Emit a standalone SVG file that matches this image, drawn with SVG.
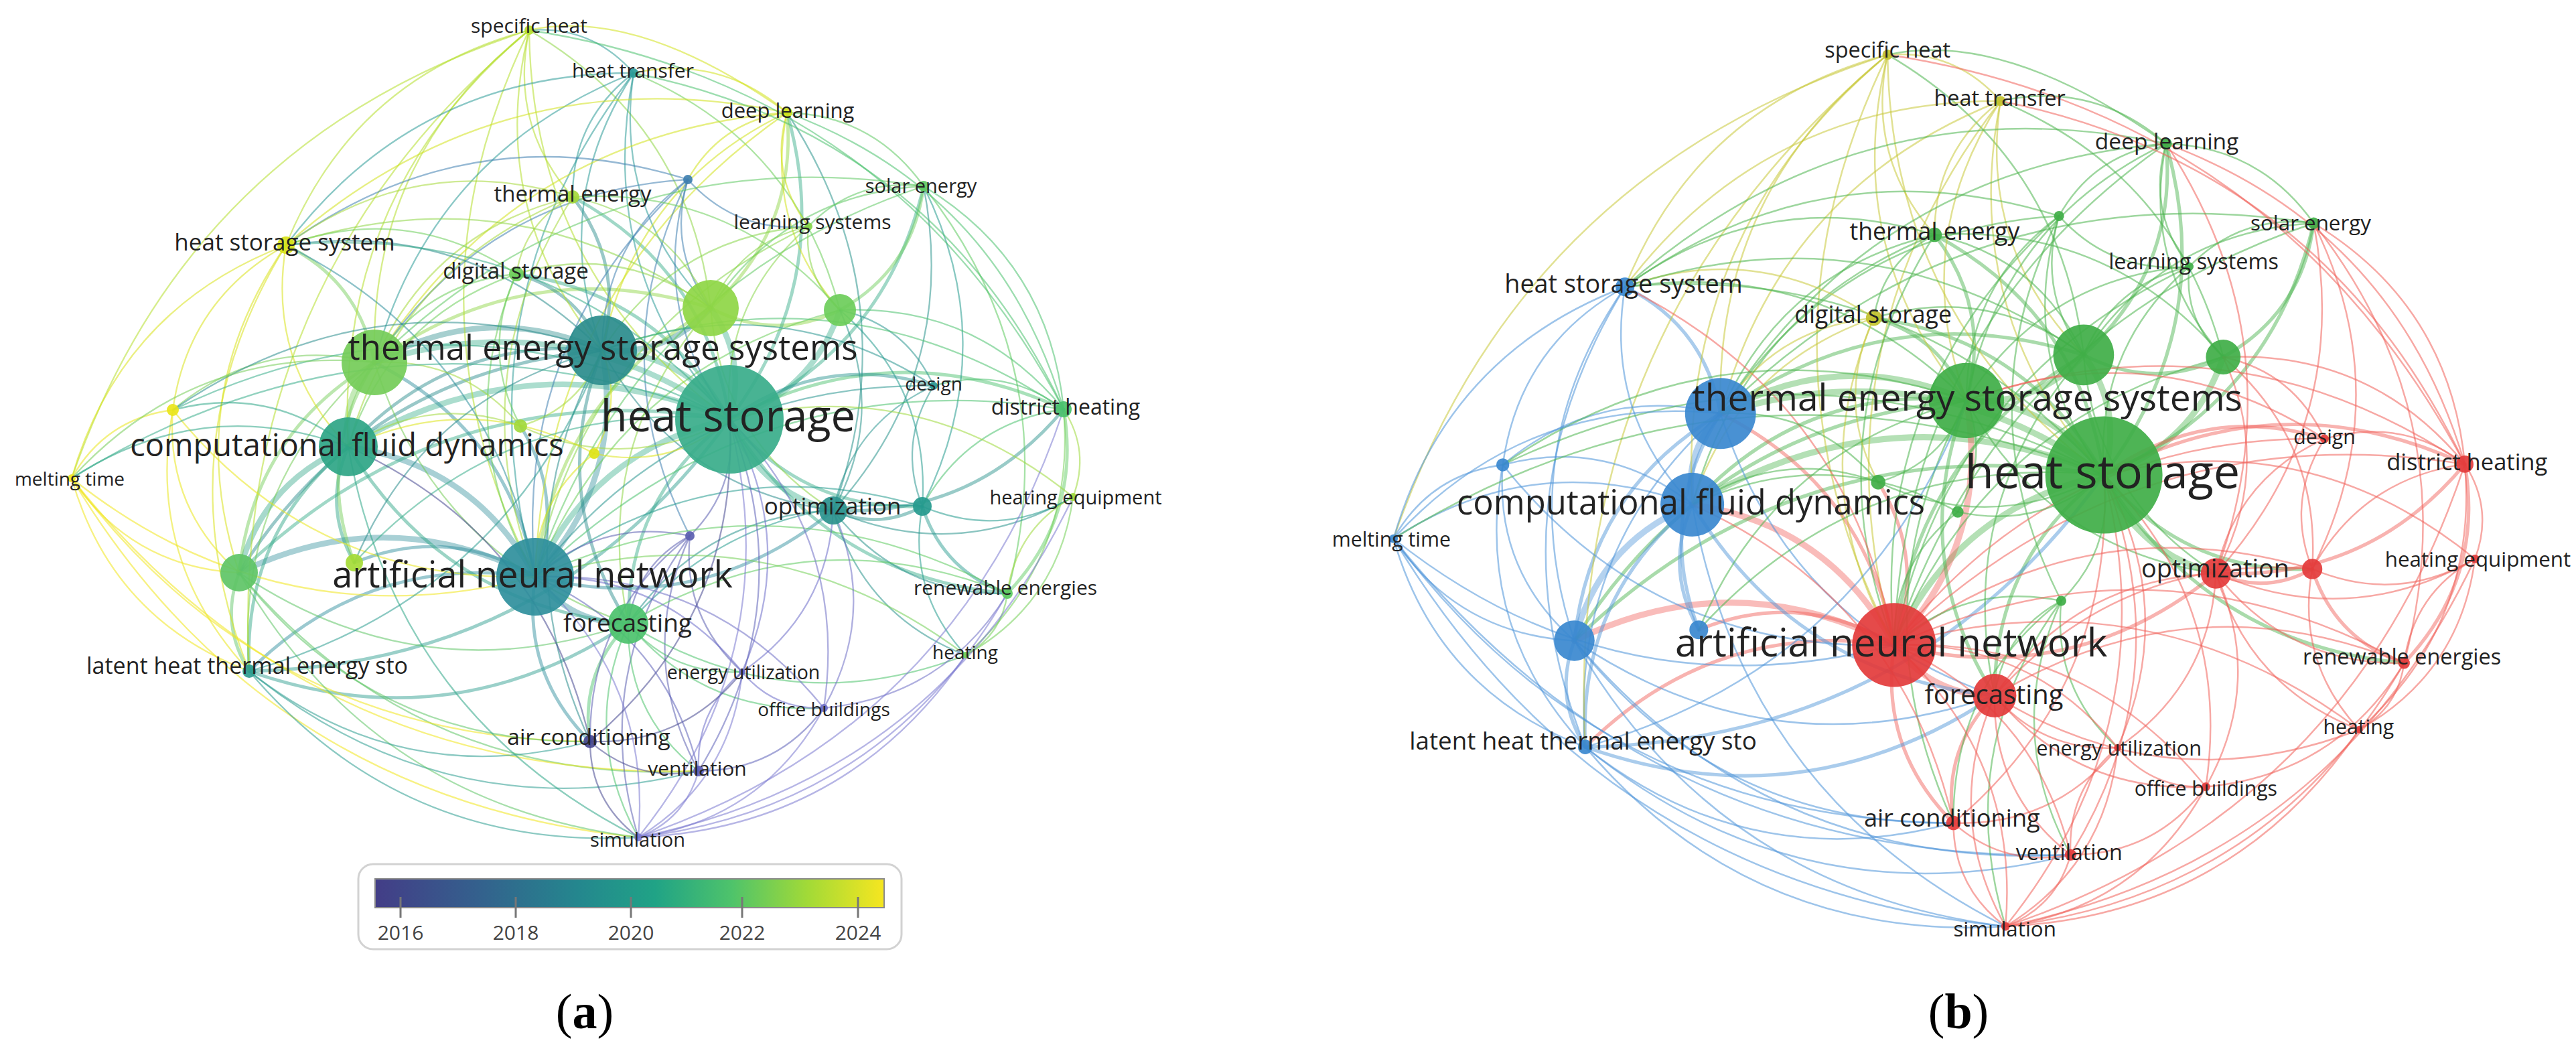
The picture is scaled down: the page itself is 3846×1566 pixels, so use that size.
<svg xmlns="http://www.w3.org/2000/svg" width="3846" height="1566" viewBox="0 0 3846 1566">
<defs>
<linearGradient id="vir" x1="0" x2="1" y1="0" y2="0">
<stop offset="0" stop-color="#433d87"/>
<stop offset=".2" stop-color="#34608d"/>
<stop offset=".4" stop-color="#24878e"/>
<stop offset=".55" stop-color="#20a386"/>
<stop offset=".7" stop-color="#4ec36b"/>
<stop offset=".85" stop-color="#a2da37"/>
<stop offset="1" stop-color="#f6e620"/>
</linearGradient>
</defs>
<style>
.l{font-family:"Open Sans","DejaVu Sans",sans-serif;fill:#222;text-anchor:middle}
#ea path,#eb path{fill:none;stroke-linecap:round}
.w1{stroke-width:2.3;stroke-opacity:.55}
.w2{stroke-width:4.8;stroke-opacity:.48}
.w3{stroke-width:8.5;stroke-opacity:.42}
.node circle{fill-opacity:.92}
#ea .c1{stroke:#b5de2b}#ea .c2{stroke:#2b9b98}#ea .c3{stroke:#d2e21b}#ea .c4{stroke:#3f7fb0}#ea .c5{stroke:#a5d83a}#ea .c6{stroke:#5ec962}#ea .c7{stroke:#86d549}#ea .c8{stroke:#d8e219}#ea .c9{stroke:#6ccd5a}#ea .c10{stroke:#8ed645}#ea .c11{stroke:#6ccd5a}#ea .c12{stroke:#2a8c8c}#ea .c13{stroke:#74cc58}#ea .c14{stroke:#38ad8a}#ea .c15{stroke:#2a9590}#ea .c16{stroke:#4ac16d}#ea .c17{stroke:#eae51a}#ea .c18{stroke:#a2d93c}#ea .c19{stroke:#dde318}#ea .c20{stroke:#2ea586}#ea .c21{stroke:#f0e51c}#ea .c22{stroke:#259a8e}#ea .c23{stroke:#2a938d}#ea .c24{stroke:#9dd93b}#ea .c25{stroke:#5b5fb0}#ea .c26{stroke:#5ec466}#ea .c27{stroke:#a5db36}#ea .c28{stroke:#2f8f9c}#ea .c29{stroke:#5ccb5f}#ea .c30{stroke:#4cc26c}#ea .c31{stroke:#72d056}#ea .c32{stroke:#2c9c8f}#ea .c33{stroke:#6b6bc8}#ea .c34{stroke:#6d6dc4}#ea .c35{stroke:#46478f}#ea .c36{stroke:#5d60b8}#ea .c37{stroke:#7a78cf}
#eb .c1,#eb .c2,#eb .c9{stroke:#c9c93a}
#eb .c3,#eb .c4,#eb .c5,#eb .c6,#eb .c7,#eb .c10,#eb .c11,#eb .c12,#eb .c14,#eb .c18,#eb .c19,#eb .c25{stroke:#4cb44f}
#eb .c8,#eb .c13,#eb .c17,#eb .c20,#eb .c21,#eb .c26,#eb .c27,#eb .c32{stroke:#4d94d8}
#eb .c15,#eb .c16,#eb .c22,#eb .c23,#eb .c24,#eb .c28,#eb .c29,#eb .c30,#eb .c31,#eb .c33,#eb .c34,#eb .c35,#eb .c36,#eb .c37{stroke:#f0605a}
.cap{font-family:"Liberation Serif","Times New Roman",serif;font-size:74px;fill:#000;text-anchor:middle}
.tick{font-family:"Open Sans","DejaVu Sans",sans-serif;font-size:30px;fill:#444;text-anchor:middle}
</style>
<rect width="3846" height="1566" fill="#fff"/>

<g id="panel-a">
<g id="ea">
<path class="w3 c14" d="M1089 626Q1020 527 899 523"/>
<path class="w3 c14" d="M1089 626Q885 671 799 861"/>
<path class="w3 c14" d="M1089 626Q1116 536 1061 460"/>
<path class="w3 c14" d="M1089 626Q845 451 559 541"/>
<path class="w3 c14" d="M1089 626Q794 504 520 667"/>
<path class="w3 c12" d="M899 523Q724 447 559 541"/>
<path class="w3 c28" d="M799 861Q708 694 520 667"/>
<path class="w3 c13" d="M559 541Q508 594 520 667"/>
<path class="w3 c28" d="M799 861Q579 747 357 855"/>
<path class="w3 c20" d="M520 667Q391 720 357 855"/>
<path class="w3 c12" d="M899 523Q996 532 1061 460"/>
<path class="w3 c28" d="M799 861Q933 717 899 523"/>
<path class="w3 c14" d="M1089 626Q1212 586 1254 463"/>
<path class="w3 c14" d="M1089 626Q1132 733 1244 762"/>
<path class="w3 c28" d="M799 861Q851 931 938 931"/>
<path class="w2 c14" d="M1089 626Q937 741 938 931"/>
<path class="w2 c14" d="M1089 626Q666 557 357 855"/>
<path class="w2 c12" d="M899 523Q673 500 520 667"/>
<path class="w2 c28" d="M799 861Q759 641 559 541"/>
<path class="w2 c10" d="M1061 460Q1157 510 1254 463"/>
<path class="w2 c10" d="M1061 460Q790 375 559 541"/>
<path class="w2 c14" d="M1089 626Q1200 763 1377 756"/>
<path class="w2 c23" d="M1244 762Q1312 792 1377 756"/>
<path class="w2 c28" d="M799 861Q1046 923 1244 762"/>
<path class="w2 c12" d="M899 523Q545 553 357 855"/>
<path class="w2 c13" d="M559 541Q379 647 357 855"/>
<path class="w2 c20" d="M520 667Q362 797 372 1002"/>
<path class="w2 c26" d="M357 855Q328 932 372 1002"/>
<path class="w2 c28" d="M799 861Q550 825 372 1002"/>
<path class="w2 c13" d="M559 541Q537 420 427 366"/>
<path class="w2 c16" d="M1588 611Q1335 494 1089 626"/>
<path class="w2 c14" d="M1089 626Q984 438 771 409"/>
<path class="w2 c12" d="M899 523Q863 434 771 409"/>
<path class="w2 c14" d="M1089 626Q1055 401 855 294"/>
<path class="w2 c14" d="M1089 626Q1246 418 1175 168"/>
<path class="w2 c10" d="M1061 460Q1191 342 1175 168"/>
<path class="w2 c14" d="M1089 626Q1321 524 1379 278"/>
<path class="w2 c11" d="M1254 463Q1363 402 1379 278"/>
<path class="w2 c12" d="M899 523Q934 397 855 294"/>
<path class="w2 c28" d="M799 861Q778 1004 881 1107"/>
<path class="w2 c30" d="M938 931Q865 1005 881 1107"/>
<path class="w2 c15" d="M1394 576Q1229 525 1089 626"/>
<path class="w2 c23" d="M1244 762Q1454 772 1588 611"/>
<path class="w2 c29" d="M1504 886Q1615 769 1588 611"/>
<path class="w2 c22" d="M1377 756Q1408 853 1504 886"/>
<path class="w2 c14" d="M1089 626Q1231 860 1504 886"/>
<path class="w2 c28" d="M799 861Q844 743 777 636"/>
<path class="w2 c20" d="M520 667Q481 756 529 840"/>
<path class="w2 c28" d="M799 861Q669 783 529 840"/>
<path class="w2 c13" d="M559 541Q469 683 529 840"/>
<path class="w2 c32" d="M372 1002Q824 993 1089 626"/>
<path class="w2 c32" d="M372 1002Q673 1108 938 931"/>
<path class="w2 c12" d="M899 523Q816 737 938 931"/>
<path class="w2 c20" d="M520 667Q663 903 938 931"/>
<path class="w2 c10" d="M1061 460Q830 595 799 861"/>
<path class="w1 c13" d="M559 541Q651 831 938 931"/>
<path class="w1 c12" d="M899 523Q1012 729 1244 762"/>
<path class="w1 c10" d="M1061 460Q1077 657 1244 762"/>
<path class="w1 c11" d="M1254 463Q927 548 799 861"/>
<path class="w1 c13" d="M559 541Q350 725 372 1002"/>
<path class="w1 c26" d="M357 855Q626 1174 1043 1151"/>
<path class="w1 c32" d="M372 1002Q670 1244 1043 1151"/>
<path class="w1 c12" d="M899 523Q744 810 881 1107"/>
<path class="w1 c10" d="M1061 460Q882 665 938 931"/>
<path class="w1 c1" d="M790 45Q794 410 1089 626"/>
<path class="w1 c1" d="M790 45Q725 311 899 523"/>
<path class="w1 c1" d="M790 45Q528 115 427 366"/>
<path class="w1 c1" d="M790 45Q550 235 559 541"/>
<path class="w1 c1" d="M790 45Q760 186 855 294"/>
<path class="w1 c2" d="M946 109Q884 38 790 45"/>
<path class="w1 c3" d="M1175 168Q952 10 790 45"/>
<path class="w1 c10" d="M1061 460Q1029 185 790 45"/>
<path class="w1 c1" d="M790 45Q499 288 520 667"/>
<path class="w1 c1" d="M790 45Q590 455 799 861"/>
<path class="w1 c1" d="M790 45Q281 209 107 714"/>
<path class="w1 c1" d="M790 45Q342 419 372 1002"/>
<path class="w1 c2" d="M946 109Q888 403 1089 626"/>
<path class="w1 c2" d="M946 109Q819 304 899 523"/>
<path class="w1 c2" d="M946 109Q916 313 1061 460"/>
<path class="w1 c2" d="M946 109Q854 179 855 294"/>
<path class="w1 c3" d="M1175 168Q1075 81 946 109"/>
<path class="w1 c2" d="M946 109Q684 448 799 861"/>
<path class="w1 c2" d="M946 109Q644 228 559 541"/>
<path class="w1 c11" d="M1254 463Q1188 209 946 109"/>
<path class="w1 c2" d="M946 109Q622 108 427 366"/>
<path class="w1 c3" d="M1175 168Q1141 335 1254 463"/>
<path class="w1 c6" d="M1379 278Q1304 172 1175 168"/>
<path class="w1 c3" d="M1175 168Q1148 261 1207 338"/>
<path class="w1 c3" d="M1175 168Q814 420 799 861"/>
<path class="w1 c3" d="M1175 168Q948 276 899 523"/>
<path class="w1 c3" d="M1175 168Q1076 181 1027 268"/>
<path class="w1 c3" d="M1175 168Q774 200 559 541"/>
<path class="w1 c23" d="M1244 762Q1358 448 1175 168"/>
<path class="w1 c3" d="M1175 168Q751 80 427 366"/>
<path class="w1 c4" d="M1027 268Q968 462 1089 626"/>
<path class="w1 c4" d="M1027 268Q996 372 1061 460"/>
<path class="w1 c4" d="M1027 268Q899 363 899 523"/>
<path class="w1 c4" d="M1027 268Q765 507 799 861"/>
<path class="w1 c4" d="M1027 268Q1099 348 1207 338"/>
<path class="w1 c4" d="M1027 268Q895 535 1030 800"/>
<path class="w1 c4" d="M1027 268Q702 167 427 366"/>
<path class="w1 c4" d="M1027 268Q725 287 559 541"/>
<path class="w1 c10" d="M1061 460Q999 325 855 294"/>
<path class="w1 c5" d="M855 294Q645 343 559 541"/>
<path class="w1 c5" d="M855 294Q623 223 427 366"/>
<path class="w1 c5" d="M855 294Q784 330 771 409"/>
<path class="w1 c5" d="M855 294Q685 563 799 861"/>
<path class="w1 c5" d="M855 294Q594 397 520 667"/>
<path class="w1 c11" d="M1254 463Q1097 279 855 294"/>
<path class="w1 c6" d="M1379 278Q1174 289 1061 460"/>
<path class="w1 c16" d="M1588 611Q1567 392 1379 278"/>
<path class="w1 c23" d="M1244 762Q1432 554 1379 278"/>
<path class="w1 c6" d="M1379 278Q943 424 799 861"/>
<path class="w1 c6" d="M1379 278Q1278 265 1207 338"/>
<path class="w1 c29" d="M1504 886Q1593 551 1379 278"/>
<path class="w1 c22" d="M1377 756Q1497 517 1379 278"/>
<path class="w1 c6" d="M1379 278Q903 204 559 541"/>
<path class="w1 c7" d="M1207 338Q1076 452 1089 626"/>
<path class="w1 c7" d="M1207 338Q1199 412 1254 463"/>
<path class="w1 c7" d="M1207 338Q1103 362 1061 460"/>
<path class="w1 c7" d="M1207 338Q872 497 799 861"/>
<path class="w1 c7" d="M1207 338Q1007 353 899 523"/>
<path class="w1 c12" d="M899 523Q702 326 427 366"/>
<path class="w1 c14" d="M1089 626Q823 330 427 366"/>
<path class="w1 c8" d="M427 366Q398 540 520 667"/>
<path class="w1 c8" d="M427 366Q270 593 357 855"/>
<path class="w1 c9" d="M771 409Q610 301 427 366"/>
<path class="w1 c8" d="M427 366Q180 460 107 714"/>
<path class="w1 c8" d="M427 366Q281 447 258 612"/>
<path class="w1 c8" d="M427 366Q240 670 372 1002"/>
<path class="w1 c28" d="M799 861Q737 520 427 366"/>
<path class="w1 c10" d="M1061 460Q767 254 427 366"/>
<path class="w1 c9" d="M771 409Q632 422 559 541"/>
<path class="w1 c10" d="M1061 460Q929 362 771 409"/>
<path class="w1 c9" d="M771 409Q581 475 520 667"/>
<path class="w1 c9" d="M771 409Q672 642 799 861"/>
<path class="w1 c9" d="M771 409Q717 524 777 636"/>
<path class="w1 c16" d="M1588 611Q1500 545 1394 576"/>
<path class="w1 c15" d="M1394 576Q1272 631 1244 762"/>
<path class="w1 c15" d="M1394 576Q1340 662 1377 756"/>
<path class="w1 c15" d="M1394 576Q1025 570 799 861"/>
<path class="w1 c15" d="M1394 576Q1160 426 899 523"/>
<path class="w1 c15" d="M1394 576Q1352 484 1254 463"/>
<path class="w1 c16" d="M1588 611Q1446 631 1377 756"/>
<path class="w1 c24" d="M1602 742Q1628 673 1588 611"/>
<path class="w1 c31" d="M1442 978Q1607 831 1588 611"/>
<path class="w1 c16" d="M1588 611Q1131 539 799 861"/>
<path class="w1 c16" d="M1588 611Q1458 453 1254 463"/>
<path class="w1 c16" d="M1588 611Q1265 395 899 523"/>
<path class="w1 c13" d="M559 541Q391 501 258 612"/>
<path class="w1 c20" d="M520 667Q403 574 258 612"/>
<path class="w1 c17" d="M258 612Q157 625 107 714"/>
<path class="w1 c17" d="M258 612Q247 758 357 855"/>
<path class="w1 c17" d="M258 612Q217 835 372 1002"/>
<path class="w1 c14" d="M1089 626Q677 411 258 612"/>
<path class="w1 c12" d="M899 523Q556 407 258 612"/>
<path class="w1 c17" d="M258 612Q466 872 799 861"/>
<path class="w1 c18" d="M777 636Q935 709 1089 626"/>
<path class="w1 c18" d="M777 636Q866 610 899 523"/>
<path class="w1 c18" d="M777 636Q641 587 520 667"/>
<path class="w1 c18" d="M777 636Q692 534 559 541"/>
<path class="w1 c19" d="M887 677Q1001 702 1089 626"/>
<path class="w1 c19" d="M887 677Q931 603 899 523"/>
<path class="w1 c19" d="M887 677Q797 747 799 861"/>
<path class="w1 c19" d="M887 677Q706 580 520 667"/>
<path class="w1 c20" d="M520 667Q302 587 107 714"/>
<path class="w1 c21" d="M107 714Q197 847 357 855"/>
<path class="w1 c21" d="M107 714Q167 924 372 1002"/>
<path class="w1 c13" d="M559 541Q290 514 107 714"/>
<path class="w1 c21" d="M107 714Q416 960 799 861"/>
<path class="w1 c14" d="M1089 626Q576 424 107 714"/>
<path class="w1 c21" d="M107 714Q396 1104 881 1107"/>
<path class="w1 c21" d="M107 714Q466 1166 1043 1151"/>
<path class="w1 c21" d="M107 714Q396 1193 953 1250"/>
<path class="w1 c22" d="M1377 756Q1493 805 1602 742"/>
<path class="w1 c22" d="M1377 756Q1354 883 1442 978"/>
<path class="w1 c22" d="M1377 756Q1062 664 799 861"/>
<path class="w1 c22" d="M1377 756Q1114 734 938 931"/>
<path class="w1 c22" d="M1377 756Q1389 579 1254 463"/>
<path class="w1 c23" d="M1244 762Q1049 770 938 931"/>
<path class="w1 c23" d="M1244 762Q1343 889 1504 886"/>
<path class="w1 c23" d="M1244 762Q1428 841 1602 742"/>
<path class="w1 c23" d="M1244 762Q1289 919 1442 978"/>
<path class="w1 c23" d="M1244 762Q1324 615 1254 463"/>
<path class="w1 c24" d="M1602 742Q1517 789 1504 886"/>
<path class="w1 c31" d="M1442 978Q1581 900 1602 742"/>
<path class="w1 c24" d="M1602 742Q1374 556 1089 626"/>
<path class="w1 c25" d="M1030 800Q1103 728 1089 626"/>
<path class="w1 c25" d="M1030 800Q899 773 799 861"/>
<path class="w1 c25" d="M1030 800Q951 842 938 931"/>
<path class="w1 c25" d="M1030 800Q949 979 1043 1151"/>
<path class="w1 c25" d="M1030 800Q879 916 881 1107"/>
<path class="w1 c25" d="M1030 800Q1018 921 1108 1003"/>
<path class="w1 c25" d="M1030 800Q879 1006 953 1250"/>
<path class="w1 c26" d="M357 855Q628 1038 938 931"/>
<path class="w1 c26" d="M357 855Q556 1112 881 1107"/>
<path class="w1 c26" d="M357 855Q556 1201 953 1250"/>
<path class="w1 c14" d="M1089 626Q755 593 529 840"/>
<path class="w1 c12" d="M899 523Q635 589 529 840"/>
<path class="w1 c31" d="M1442 978Q1496 947 1504 886"/>
<path class="w1 c29" d="M1504 886Q1210 767 938 931"/>
<path class="w1 c29" d="M1504 886Q1158 697 799 861"/>
<path class="w1 c30" d="M938 931Q1005 1009 1108 1003"/>
<path class="w1 c30" d="M938 931Q1052 1067 1230 1057"/>
<path class="w1 c30" d="M938 931Q935 1067 1043 1151"/>
<path class="w1 c30" d="M938 931Q866 1094 953 1250"/>
<path class="w1 c30" d="M938 931Q1178 1080 1442 978"/>
<path class="w1 c31" d="M1442 978Q1150 759 799 861"/>
<path class="w1 c32" d="M372 1002Q600 1182 881 1107"/>
<path class="w1 c32" d="M372 1002Q600 1271 953 1250"/>
<path class="w1 c32" d="M372 1002Q755 894 899 523"/>
<path class="w1 c33" d="M1108 1003Q989 855 799 861"/>
<path class="w1 c33" d="M1108 1003Q1155 1060 1230 1057"/>
<path class="w1 c33" d="M1108 1003Q1038 1061 1043 1151"/>
<path class="w1 c33" d="M1108 1003Q1193 810 1089 626"/>
<path class="w1 c33" d="M1108 1003Q1236 916 1244 762"/>
<path class="w1 c34" d="M1230 1057Q1063 851 799 861"/>
<path class="w1 c36" d="M1043 1151Q1160 1151 1230 1057"/>
<path class="w1 c34" d="M1230 1057Q1267 806 1089 626"/>
<path class="w1 c34" d="M1230 1057Q1311 913 1244 762"/>
<path class="w1 c34" d="M1230 1057Q1410 1040 1504 886"/>
<path class="w1 c35" d="M881 1107Q951 1169 1043 1151"/>
<path class="w1 c35" d="M881 1107Q881 1196 953 1250"/>
<path class="w1 c35" d="M881 1107Q1105 918 1089 626"/>
<path class="w1 c35" d="M881 1107Q810 797 520 667"/>
<path class="w1 c35" d="M881 1107Q1020 1112 1108 1003"/>
<path class="w1 c37" d="M953 1250Q1023 1223 1043 1151"/>
<path class="w1 c36" d="M1043 1151Q993 945 799 861"/>
<path class="w1 c36" d="M1043 1151Q1197 900 1089 626"/>
<path class="w1 c37" d="M953 1250Q973 1017 799 861"/>
<path class="w1 c37" d="M953 1250Q1177 972 1089 626"/>
<path class="w1 c20" d="M520 667Q591 1067 953 1250"/>
<path class="w1 c37" d="M953 1250Q1140 1223 1230 1057"/>
<path class="w1 c37" d="M953 1250Q1092 1165 1108 1003"/>
<path class="w1 c37" d="M953 1250Q1319 1206 1504 886"/>
<path class="w1 c37" d="M953 1250Q1265 1236 1442 978"/>
<path class="w1 c37" d="M953 1250Q1430 1089 1588 611"/>
<path class="w1 c37" d="M953 1250Q1404 1158 1602 742"/>
<path class="w1 c16" d="M1588 611Q1330 128 790 45"/>
<path class="w1 c16" d="M1588 611Q1392 199 946 109"/>
<path class="w1 c16" d="M1588 611Q1492 286 1175 168"/>
</g>
<g id="a-n4" class="node"><circle cx="1027" cy="268" r="7" fill="#3f7fb0"/></g>
<g id="a-n10" class="node"><circle cx="1061" cy="460" r="42" fill="#8ed645"/></g>
<g id="a-n11" class="node"><circle cx="1254" cy="463" r="24" fill="#6ccd5a"/></g>
<g id="a-n13" class="node"><circle cx="559" cy="541" r="49" fill="#74cc58"/></g>
<g id="a-n17" class="node"><circle cx="258" cy="612" r="9" fill="#eae51a"/></g>
<g id="a-n18" class="node"><circle cx="777" cy="636" r="10" fill="#a2d93c"/></g>
<g id="a-n19" class="node"><circle cx="887" cy="677" r="8" fill="#dde318"/></g>
<g id="a-n22" class="node"><circle cx="1377" cy="756" r="14" fill="#259a8e"/></g>
<g id="a-n25" class="node"><circle cx="1030" cy="800" r="7" fill="#5b5fb0"/></g>
<g id="a-n26" class="node"><circle cx="357" cy="855" r="28" fill="#5ec466"/></g>
<g id="a-n27" class="node"><circle cx="529" cy="840" r="13" fill="#a5db36"/></g>
<g id="a-n14" class="node"><circle cx="1089" cy="626" r="81" fill="#38ad8a"/><text class="l" x="1087" y="644" font-size="65">heat storage</text></g>
<g id="a-n28" class="node"><circle cx="799" cy="861" r="58" fill="#2f8f9c"/><text class="l" x="795" y="877" font-size="54">artificial neural network</text></g>
<g id="a-n12" class="node"><circle cx="899" cy="523" r="52" fill="#2a8c8c"/><text class="l" x="900" y="537" font-size="51">thermal energy storage systems</text></g>
<g id="a-n20" class="node"><circle cx="520" cy="667" r="44" fill="#2ea586"/><text class="l" x="518" y="681" font-size="47">computational fluid dynamics</text></g>
<g id="a-n30" class="node"><circle cx="938" cy="931" r="30" fill="#4cc26c"/><text class="l" x="937" y="943" font-size="37">forecasting</text></g>
<g id="a-n23" class="node"><circle cx="1244" cy="762" r="21" fill="#2a938d"/><text class="l" x="1243" y="768" font-size="35">optimization</text></g>
<g id="a-n8" class="node"><circle cx="427" cy="366" r="13" fill="#d8e219"/><text class="l" x="425" y="374" font-size="35">heat storage system</text></g>
<g id="a-n16" class="node"><circle cx="1588" cy="611" r="12" fill="#4ac16d"/><text class="l" x="1591" y="619" font-size="32">district heating</text></g>
<g id="a-n9" class="node"><circle cx="771" cy="409" r="11" fill="#6ccd5a"/><text class="l" x="770" y="416" font-size="33">digital storage</text></g>
<g id="a-n5" class="node"><circle cx="855" cy="294" r="10" fill="#a5d83a"/><text class="l" x="855" y="301" font-size="33">thermal energy</text></g>
<g id="a-n32" class="node"><circle cx="372" cy="1002" r="10" fill="#2c9c8f"/><text class="l" x="369" y="1006" font-size="34">latent heat thermal energy sto</text></g>
<g id="a-n35" class="node"><circle cx="881" cy="1107" r="10" fill="#46478f"/><text class="l" x="879" y="1112" font-size="33.5">air conditioning</text></g>
<g id="a-n3" class="node"><circle cx="1175" cy="168" r="8" fill="#d2e21b"/><text class="l" x="1176" y="176" font-size="31">deep learning</text></g>
<g id="a-n29" class="node"><circle cx="1504" cy="886" r="8" fill="#5ccb5f"/><text class="l" x="1501" y="888" font-size="30">renewable energies</text></g>
<g id="a-n36" class="node"><circle cx="1043" cy="1151" r="8" fill="#5d60b8"/><text class="l" x="1041" y="1158" font-size="30">ventilation</text></g>
<g id="a-n6" class="node"><circle cx="1379" cy="278" r="8" fill="#5ec962"/><text class="l" x="1375" y="288" font-size="29">solar energy</text></g>
<g id="a-n1" class="node"><circle cx="790" cy="45" r="7" fill="#b5de2b"/><text class="l" x="790" y="49" font-size="30">specific heat</text></g>
<g id="a-n2" class="node"><circle cx="946" cy="109" r="7" fill="#2b9b98"/><text class="l" x="945" y="116" font-size="30">heat transfer</text></g>
<g id="a-n7" class="node"><circle cx="1207" cy="338" r="6" fill="#86d549"/><text class="l" x="1213" y="342" font-size="30">learning systems</text></g>
<g id="a-n15" class="node"><circle cx="1394" cy="576" r="6" fill="#2a9590"/><text class="l" x="1394" y="583" font-size="28">design</text></g>
<g id="a-n21" class="node"><circle cx="107" cy="714" r="6" fill="#f0e51c"/><text class="l" x="104" y="725" font-size="28">melting time</text></g>
<g id="a-n24" class="node"><circle cx="1602" cy="742" r="6" fill="#9dd93b"/><text class="l" x="1606" y="753" font-size="29">heating equipment</text></g>
<g id="a-n34" class="node"><circle cx="1230" cy="1057" r="6" fill="#6d6dc4"/><text class="l" x="1230" y="1069" font-size="28">office buildings</text></g>
<g id="a-n37" class="node"><circle cx="953" cy="1250" r="6" fill="#7a78cf"/><text class="l" x="952" y="1264" font-size="29">simulation</text></g>
<g id="a-n31" class="node"><circle cx="1442" cy="978" r="5" fill="#72d056"/><text class="l" x="1441" y="984" font-size="28">heating</text></g>
<g id="a-n33" class="node"><circle cx="1108" cy="1003" r="5" fill="#6b6bc8"/><text class="l" x="1110" y="1014" font-size="28.5">energy utilization</text></g>
</g>

<g id="panel-b" transform="translate(1965 33) scale(1.08)">
<g id="eb">
<path class="w3 c14" d="M1089 626Q1020 527 899 523"/>
<path class="w3 c14" d="M1089 626Q885 671 799 861"/>
<path class="w3 c14" d="M1089 626Q1116 536 1061 460"/>
<path class="w3 c14" d="M1089 626Q845 451 559 541"/>
<path class="w3 c14" d="M1089 626Q794 504 520 667"/>
<path class="w3 c12" d="M899 523Q724 447 559 541"/>
<path class="w3 c28" d="M799 861Q708 694 520 667"/>
<path class="w3 c13" d="M559 541Q508 594 520 667"/>
<path class="w3 c28" d="M799 861Q579 747 357 855"/>
<path class="w3 c20" d="M520 667Q391 720 357 855"/>
<path class="w3 c12" d="M899 523Q996 532 1061 460"/>
<path class="w3 c28" d="M799 861Q933 717 899 523"/>
<path class="w3 c14" d="M1089 626Q1212 586 1254 463"/>
<path class="w3 c14" d="M1089 626Q1132 733 1244 762"/>
<path class="w3 c28" d="M799 861Q851 931 938 931"/>
<path class="w2 c14" d="M1089 626Q937 741 938 931"/>
<path class="w2 c14" d="M1089 626Q666 557 357 855"/>
<path class="w2 c12" d="M899 523Q673 500 520 667"/>
<path class="w2 c28" d="M799 861Q759 641 559 541"/>
<path class="w2 c10" d="M1061 460Q1157 510 1254 463"/>
<path class="w2 c10" d="M1061 460Q790 375 559 541"/>
<path class="w2 c14" d="M1089 626Q1200 763 1377 756"/>
<path class="w2 c23" d="M1244 762Q1312 792 1377 756"/>
<path class="w2 c28" d="M799 861Q1046 923 1244 762"/>
<path class="w2 c12" d="M899 523Q545 553 357 855"/>
<path class="w2 c13" d="M559 541Q379 647 357 855"/>
<path class="w2 c20" d="M520 667Q362 797 372 1002"/>
<path class="w2 c26" d="M357 855Q328 932 372 1002"/>
<path class="w2 c28" d="M799 861Q550 825 372 1002"/>
<path class="w2 c13" d="M559 541Q537 420 427 366"/>
<path class="w2 c16" d="M1588 611Q1335 494 1089 626"/>
<path class="w2 c14" d="M1089 626Q984 438 771 409"/>
<path class="w2 c12" d="M899 523Q863 434 771 409"/>
<path class="w2 c14" d="M1089 626Q1055 401 855 294"/>
<path class="w2 c14" d="M1089 626Q1246 418 1175 168"/>
<path class="w2 c10" d="M1061 460Q1191 342 1175 168"/>
<path class="w2 c14" d="M1089 626Q1321 524 1379 278"/>
<path class="w2 c11" d="M1254 463Q1363 402 1379 278"/>
<path class="w2 c12" d="M899 523Q934 397 855 294"/>
<path class="w2 c28" d="M799 861Q778 1004 881 1107"/>
<path class="w2 c30" d="M938 931Q865 1005 881 1107"/>
<path class="w2 c15" d="M1394 576Q1229 525 1089 626"/>
<path class="w2 c23" d="M1244 762Q1454 772 1588 611"/>
<path class="w2 c29" d="M1504 886Q1615 769 1588 611"/>
<path class="w2 c22" d="M1377 756Q1408 853 1504 886"/>
<path class="w2 c14" d="M1089 626Q1231 860 1504 886"/>
<path class="w2 c28" d="M799 861Q844 743 777 636"/>
<path class="w2 c20" d="M520 667Q481 756 529 840"/>
<path class="w2 c28" d="M799 861Q669 783 529 840"/>
<path class="w2 c13" d="M559 541Q469 683 529 840"/>
<path class="w2 c32" d="M372 1002Q824 993 1089 626"/>
<path class="w2 c32" d="M372 1002Q673 1108 938 931"/>
<path class="w2 c12" d="M899 523Q816 737 938 931"/>
<path class="w2 c20" d="M520 667Q663 903 938 931"/>
<path class="w2 c10" d="M1061 460Q830 595 799 861"/>
<path class="w1 c13" d="M559 541Q651 831 938 931"/>
<path class="w1 c12" d="M899 523Q1012 729 1244 762"/>
<path class="w1 c10" d="M1061 460Q1077 657 1244 762"/>
<path class="w1 c11" d="M1254 463Q927 548 799 861"/>
<path class="w1 c13" d="M559 541Q350 725 372 1002"/>
<path class="w1 c26" d="M357 855Q626 1174 1043 1151"/>
<path class="w1 c32" d="M372 1002Q670 1244 1043 1151"/>
<path class="w1 c12" d="M899 523Q744 810 881 1107"/>
<path class="w1 c10" d="M1061 460Q882 665 938 931"/>
<path class="w1 c1" d="M790 45Q794 410 1089 626"/>
<path class="w1 c1" d="M790 45Q725 311 899 523"/>
<path class="w1 c1" d="M790 45Q528 115 427 366"/>
<path class="w1 c1" d="M790 45Q550 235 559 541"/>
<path class="w1 c1" d="M790 45Q760 186 855 294"/>
<path class="w1 c2" d="M946 109Q884 38 790 45"/>
<path class="w1 c3" d="M1175 168Q952 10 790 45"/>
<path class="w1 c10" d="M1061 460Q1029 185 790 45"/>
<path class="w1 c1" d="M790 45Q499 288 520 667"/>
<path class="w1 c1" d="M790 45Q590 455 799 861"/>
<path class="w1 c1" d="M790 45Q281 209 107 714"/>
<path class="w1 c1" d="M790 45Q342 419 372 1002"/>
<path class="w1 c2" d="M946 109Q888 403 1089 626"/>
<path class="w1 c2" d="M946 109Q819 304 899 523"/>
<path class="w1 c2" d="M946 109Q916 313 1061 460"/>
<path class="w1 c2" d="M946 109Q854 179 855 294"/>
<path class="w1 c3" d="M1175 168Q1075 81 946 109"/>
<path class="w1 c2" d="M946 109Q684 448 799 861"/>
<path class="w1 c2" d="M946 109Q644 228 559 541"/>
<path class="w1 c11" d="M1254 463Q1188 209 946 109"/>
<path class="w1 c2" d="M946 109Q622 108 427 366"/>
<path class="w1 c3" d="M1175 168Q1141 335 1254 463"/>
<path class="w1 c6" d="M1379 278Q1304 172 1175 168"/>
<path class="w1 c3" d="M1175 168Q1148 261 1207 338"/>
<path class="w1 c3" d="M1175 168Q814 420 799 861"/>
<path class="w1 c3" d="M1175 168Q948 276 899 523"/>
<path class="w1 c3" d="M1175 168Q1076 181 1027 268"/>
<path class="w1 c3" d="M1175 168Q774 200 559 541"/>
<path class="w1 c23" d="M1244 762Q1358 448 1175 168"/>
<path class="w1 c3" d="M1175 168Q751 80 427 366"/>
<path class="w1 c4" d="M1027 268Q968 462 1089 626"/>
<path class="w1 c4" d="M1027 268Q996 372 1061 460"/>
<path class="w1 c4" d="M1027 268Q899 363 899 523"/>
<path class="w1 c4" d="M1027 268Q765 507 799 861"/>
<path class="w1 c4" d="M1027 268Q1099 348 1207 338"/>
<path class="w1 c4" d="M1027 268Q895 535 1030 800"/>
<path class="w1 c4" d="M1027 268Q702 167 427 366"/>
<path class="w1 c4" d="M1027 268Q725 287 559 541"/>
<path class="w1 c10" d="M1061 460Q999 325 855 294"/>
<path class="w1 c5" d="M855 294Q645 343 559 541"/>
<path class="w1 c5" d="M855 294Q623 223 427 366"/>
<path class="w1 c5" d="M855 294Q784 330 771 409"/>
<path class="w1 c5" d="M855 294Q685 563 799 861"/>
<path class="w1 c5" d="M855 294Q594 397 520 667"/>
<path class="w1 c11" d="M1254 463Q1097 279 855 294"/>
<path class="w1 c6" d="M1379 278Q1174 289 1061 460"/>
<path class="w1 c16" d="M1588 611Q1567 392 1379 278"/>
<path class="w1 c23" d="M1244 762Q1432 554 1379 278"/>
<path class="w1 c6" d="M1379 278Q943 424 799 861"/>
<path class="w1 c6" d="M1379 278Q1278 265 1207 338"/>
<path class="w1 c29" d="M1504 886Q1593 551 1379 278"/>
<path class="w1 c22" d="M1377 756Q1497 517 1379 278"/>
<path class="w1 c6" d="M1379 278Q903 204 559 541"/>
<path class="w1 c7" d="M1207 338Q1076 452 1089 626"/>
<path class="w1 c7" d="M1207 338Q1199 412 1254 463"/>
<path class="w1 c7" d="M1207 338Q1103 362 1061 460"/>
<path class="w1 c7" d="M1207 338Q872 497 799 861"/>
<path class="w1 c7" d="M1207 338Q1007 353 899 523"/>
<path class="w1 c12" d="M899 523Q702 326 427 366"/>
<path class="w1 c14" d="M1089 626Q823 330 427 366"/>
<path class="w1 c8" d="M427 366Q398 540 520 667"/>
<path class="w1 c8" d="M427 366Q270 593 357 855"/>
<path class="w1 c9" d="M771 409Q610 301 427 366"/>
<path class="w1 c8" d="M427 366Q180 460 107 714"/>
<path class="w1 c8" d="M427 366Q281 447 258 612"/>
<path class="w1 c8" d="M427 366Q240 670 372 1002"/>
<path class="w1 c28" d="M799 861Q737 520 427 366"/>
<path class="w1 c10" d="M1061 460Q767 254 427 366"/>
<path class="w1 c9" d="M771 409Q632 422 559 541"/>
<path class="w1 c10" d="M1061 460Q929 362 771 409"/>
<path class="w1 c9" d="M771 409Q581 475 520 667"/>
<path class="w1 c9" d="M771 409Q672 642 799 861"/>
<path class="w1 c9" d="M771 409Q717 524 777 636"/>
<path class="w1 c16" d="M1588 611Q1500 545 1394 576"/>
<path class="w1 c15" d="M1394 576Q1272 631 1244 762"/>
<path class="w1 c15" d="M1394 576Q1340 662 1377 756"/>
<path class="w1 c15" d="M1394 576Q1025 570 799 861"/>
<path class="w1 c15" d="M1394 576Q1160 426 899 523"/>
<path class="w1 c15" d="M1394 576Q1352 484 1254 463"/>
<path class="w1 c16" d="M1588 611Q1446 631 1377 756"/>
<path class="w1 c24" d="M1602 742Q1628 673 1588 611"/>
<path class="w1 c31" d="M1442 978Q1607 831 1588 611"/>
<path class="w1 c16" d="M1588 611Q1131 539 799 861"/>
<path class="w1 c16" d="M1588 611Q1458 453 1254 463"/>
<path class="w1 c16" d="M1588 611Q1265 395 899 523"/>
<path class="w1 c13" d="M559 541Q391 501 258 612"/>
<path class="w1 c20" d="M520 667Q403 574 258 612"/>
<path class="w1 c17" d="M258 612Q157 625 107 714"/>
<path class="w1 c17" d="M258 612Q247 758 357 855"/>
<path class="w1 c17" d="M258 612Q217 835 372 1002"/>
<path class="w1 c14" d="M1089 626Q677 411 258 612"/>
<path class="w1 c12" d="M899 523Q556 407 258 612"/>
<path class="w1 c17" d="M258 612Q466 872 799 861"/>
<path class="w1 c18" d="M777 636Q935 709 1089 626"/>
<path class="w1 c18" d="M777 636Q866 610 899 523"/>
<path class="w1 c18" d="M777 636Q641 587 520 667"/>
<path class="w1 c18" d="M777 636Q692 534 559 541"/>
<path class="w1 c19" d="M887 677Q1001 702 1089 626"/>
<path class="w1 c19" d="M887 677Q931 603 899 523"/>
<path class="w1 c19" d="M887 677Q797 747 799 861"/>
<path class="w1 c19" d="M887 677Q706 580 520 667"/>
<path class="w1 c20" d="M520 667Q302 587 107 714"/>
<path class="w1 c21" d="M107 714Q197 847 357 855"/>
<path class="w1 c21" d="M107 714Q167 924 372 1002"/>
<path class="w1 c13" d="M559 541Q290 514 107 714"/>
<path class="w1 c21" d="M107 714Q416 960 799 861"/>
<path class="w1 c14" d="M1089 626Q576 424 107 714"/>
<path class="w1 c21" d="M107 714Q396 1104 881 1107"/>
<path class="w1 c21" d="M107 714Q466 1166 1043 1151"/>
<path class="w1 c21" d="M107 714Q396 1193 953 1250"/>
<path class="w1 c22" d="M1377 756Q1493 805 1602 742"/>
<path class="w1 c22" d="M1377 756Q1354 883 1442 978"/>
<path class="w1 c22" d="M1377 756Q1062 664 799 861"/>
<path class="w1 c22" d="M1377 756Q1114 734 938 931"/>
<path class="w1 c22" d="M1377 756Q1389 579 1254 463"/>
<path class="w1 c23" d="M1244 762Q1049 770 938 931"/>
<path class="w1 c23" d="M1244 762Q1343 889 1504 886"/>
<path class="w1 c23" d="M1244 762Q1428 841 1602 742"/>
<path class="w1 c23" d="M1244 762Q1289 919 1442 978"/>
<path class="w1 c23" d="M1244 762Q1324 615 1254 463"/>
<path class="w1 c24" d="M1602 742Q1517 789 1504 886"/>
<path class="w1 c31" d="M1442 978Q1581 900 1602 742"/>
<path class="w1 c24" d="M1602 742Q1374 556 1089 626"/>
<path class="w1 c25" d="M1030 800Q1103 728 1089 626"/>
<path class="w1 c25" d="M1030 800Q899 773 799 861"/>
<path class="w1 c25" d="M1030 800Q951 842 938 931"/>
<path class="w1 c25" d="M1030 800Q949 979 1043 1151"/>
<path class="w1 c25" d="M1030 800Q879 916 881 1107"/>
<path class="w1 c25" d="M1030 800Q1018 921 1108 1003"/>
<path class="w1 c25" d="M1030 800Q879 1006 953 1250"/>
<path class="w1 c26" d="M357 855Q628 1038 938 931"/>
<path class="w1 c26" d="M357 855Q556 1112 881 1107"/>
<path class="w1 c26" d="M357 855Q556 1201 953 1250"/>
<path class="w1 c14" d="M1089 626Q755 593 529 840"/>
<path class="w1 c12" d="M899 523Q635 589 529 840"/>
<path class="w1 c31" d="M1442 978Q1496 947 1504 886"/>
<path class="w1 c29" d="M1504 886Q1210 767 938 931"/>
<path class="w1 c29" d="M1504 886Q1158 697 799 861"/>
<path class="w1 c30" d="M938 931Q1005 1009 1108 1003"/>
<path class="w1 c30" d="M938 931Q1052 1067 1230 1057"/>
<path class="w1 c30" d="M938 931Q935 1067 1043 1151"/>
<path class="w1 c30" d="M938 931Q866 1094 953 1250"/>
<path class="w1 c30" d="M938 931Q1178 1080 1442 978"/>
<path class="w1 c31" d="M1442 978Q1150 759 799 861"/>
<path class="w1 c32" d="M372 1002Q600 1182 881 1107"/>
<path class="w1 c32" d="M372 1002Q600 1271 953 1250"/>
<path class="w1 c32" d="M372 1002Q755 894 899 523"/>
<path class="w1 c33" d="M1108 1003Q989 855 799 861"/>
<path class="w1 c33" d="M1108 1003Q1155 1060 1230 1057"/>
<path class="w1 c33" d="M1108 1003Q1038 1061 1043 1151"/>
<path class="w1 c33" d="M1108 1003Q1193 810 1089 626"/>
<path class="w1 c33" d="M1108 1003Q1236 916 1244 762"/>
<path class="w1 c34" d="M1230 1057Q1063 851 799 861"/>
<path class="w1 c36" d="M1043 1151Q1160 1151 1230 1057"/>
<path class="w1 c34" d="M1230 1057Q1267 806 1089 626"/>
<path class="w1 c34" d="M1230 1057Q1311 913 1244 762"/>
<path class="w1 c34" d="M1230 1057Q1410 1040 1504 886"/>
<path class="w1 c35" d="M881 1107Q951 1169 1043 1151"/>
<path class="w1 c35" d="M881 1107Q881 1196 953 1250"/>
<path class="w1 c35" d="M881 1107Q1105 918 1089 626"/>
<path class="w1 c35" d="M881 1107Q810 797 520 667"/>
<path class="w1 c35" d="M881 1107Q1020 1112 1108 1003"/>
<path class="w1 c37" d="M953 1250Q1023 1223 1043 1151"/>
<path class="w1 c36" d="M1043 1151Q993 945 799 861"/>
<path class="w1 c36" d="M1043 1151Q1197 900 1089 626"/>
<path class="w1 c37" d="M953 1250Q973 1017 799 861"/>
<path class="w1 c37" d="M953 1250Q1177 972 1089 626"/>
<path class="w1 c20" d="M520 667Q591 1067 953 1250"/>
<path class="w1 c37" d="M953 1250Q1140 1223 1230 1057"/>
<path class="w1 c37" d="M953 1250Q1092 1165 1108 1003"/>
<path class="w1 c37" d="M953 1250Q1319 1206 1504 886"/>
<path class="w1 c37" d="M953 1250Q1265 1236 1442 978"/>
<path class="w1 c37" d="M953 1250Q1430 1089 1588 611"/>
<path class="w1 c37" d="M953 1250Q1404 1158 1602 742"/>
<path class="w1 c16" d="M1588 611Q1330 128 790 45"/>
<path class="w1 c16" d="M1588 611Q1392 199 946 109"/>
<path class="w1 c16" d="M1588 611Q1492 286 1175 168"/>
</g>
<g id="b-n4" class="node"><circle cx="1027" cy="268" r="7" fill="#3fae46"/></g>
<g id="b-n10" class="node"><circle cx="1061" cy="460" r="42" fill="#3fae46"/></g>
<g id="b-n11" class="node"><circle cx="1254" cy="463" r="24" fill="#3fae46"/></g>
<g id="b-n13" class="node"><circle cx="559" cy="541" r="49" fill="#3a88cf"/></g>
<g id="b-n17" class="node"><circle cx="258" cy="612" r="9" fill="#3a88cf"/></g>
<g id="b-n18" class="node"><circle cx="777" cy="636" r="10" fill="#3fae46"/></g>
<g id="b-n19" class="node"><circle cx="887" cy="677" r="8" fill="#3fae46"/></g>
<g id="b-n22" class="node"><circle cx="1377" cy="756" r="14" fill="#e33b3b"/></g>
<g id="b-n25" class="node"><circle cx="1030" cy="800" r="7" fill="#3fae46"/></g>
<g id="b-n26" class="node"><circle cx="357" cy="855" r="28" fill="#3a88cf"/></g>
<g id="b-n27" class="node"><circle cx="529" cy="840" r="13" fill="#3a88cf"/></g>
<g id="b-n14" class="node"><circle cx="1089" cy="626" r="81" fill="#3fae46"/><text class="l" x="1087" y="644" font-size="65">heat storage</text></g>
<g id="b-n28" class="node"><circle cx="799" cy="861" r="58" fill="#e33b3b"/><text class="l" x="795" y="877" font-size="54">artificial neural network</text></g>
<g id="b-n12" class="node"><circle cx="899" cy="523" r="52" fill="#3fae46"/><text class="l" x="900" y="537" font-size="51">thermal energy storage systems</text></g>
<g id="b-n20" class="node"><circle cx="520" cy="667" r="44" fill="#3a88cf"/><text class="l" x="518" y="681" font-size="47">computational fluid dynamics</text></g>
<g id="b-n30" class="node"><circle cx="938" cy="931" r="30" fill="#e33b3b"/><text class="l" x="937" y="943" font-size="37">forecasting</text></g>
<g id="b-n23" class="node"><circle cx="1244" cy="762" r="21" fill="#e33b3b"/><text class="l" x="1243" y="768" font-size="35">optimization</text></g>
<g id="b-n8" class="node"><circle cx="427" cy="366" r="13" fill="#3a88cf"/><text class="l" x="425" y="374" font-size="35">heat storage system</text></g>
<g id="b-n16" class="node"><circle cx="1588" cy="611" r="12" fill="#e33b3b"/><text class="l" x="1591" y="619" font-size="32">district heating</text></g>
<g id="b-n9" class="node"><circle cx="771" cy="409" r="11" fill="#c2c22c"/><text class="l" x="770" y="416" font-size="33">digital storage</text></g>
<g id="b-n5" class="node"><circle cx="855" cy="294" r="10" fill="#3fae46"/><text class="l" x="855" y="301" font-size="33">thermal energy</text></g>
<g id="b-n32" class="node"><circle cx="372" cy="1002" r="10" fill="#3a88cf"/><text class="l" x="369" y="1006" font-size="34">latent heat thermal energy sto</text></g>
<g id="b-n35" class="node"><circle cx="881" cy="1107" r="10" fill="#e33b3b"/><text class="l" x="879" y="1112" font-size="33.5">air conditioning</text></g>
<g id="b-n3" class="node"><circle cx="1175" cy="168" r="8" fill="#3fae46"/><text class="l" x="1176" y="176" font-size="31">deep learning</text></g>
<g id="b-n29" class="node"><circle cx="1504" cy="886" r="8" fill="#e33b3b"/><text class="l" x="1501" y="888" font-size="30">renewable energies</text></g>
<g id="b-n36" class="node"><circle cx="1043" cy="1151" r="8" fill="#e33b3b"/><text class="l" x="1041" y="1158" font-size="30">ventilation</text></g>
<g id="b-n6" class="node"><circle cx="1379" cy="278" r="8" fill="#3fae46"/><text class="l" x="1375" y="288" font-size="29">solar energy</text></g>
<g id="b-n1" class="node"><circle cx="790" cy="45" r="7" fill="#c2c22c"/><text class="l" x="790" y="49" font-size="30">specific heat</text></g>
<g id="b-n2" class="node"><circle cx="946" cy="109" r="7" fill="#c2c22c"/><text class="l" x="945" y="116" font-size="30">heat transfer</text></g>
<g id="b-n7" class="node"><circle cx="1207" cy="338" r="6" fill="#3fae46"/><text class="l" x="1213" y="342" font-size="30">learning systems</text></g>
<g id="b-n15" class="node"><circle cx="1394" cy="576" r="6" fill="#e33b3b"/><text class="l" x="1394" y="583" font-size="28">design</text></g>
<g id="b-n21" class="node"><circle cx="107" cy="714" r="6" fill="#3a88cf"/><text class="l" x="104" y="725" font-size="28">melting time</text></g>
<g id="b-n24" class="node"><circle cx="1602" cy="742" r="6" fill="#e33b3b"/><text class="l" x="1606" y="753" font-size="29">heating equipment</text></g>
<g id="b-n34" class="node"><circle cx="1230" cy="1057" r="6" fill="#e33b3b"/><text class="l" x="1230" y="1069" font-size="28">office buildings</text></g>
<g id="b-n37" class="node"><circle cx="953" cy="1250" r="6" fill="#e33b3b"/><text class="l" x="952" y="1264" font-size="29">simulation</text></g>
<g id="b-n31" class="node"><circle cx="1442" cy="978" r="5" fill="#e33b3b"/><text class="l" x="1441" y="984" font-size="28">heating</text></g>
<g id="b-n33" class="node"><circle cx="1108" cy="1003" r="5" fill="#e33b3b"/><text class="l" x="1110" y="1014" font-size="28.5">energy utilization</text></g>
</g>

<g id="colorbar">
<rect x="535" y="1290" width="811" height="127" rx="22" fill="#fff" stroke="#d2d2d2" stroke-width="3"/>
<rect x="560" y="1312" width="760" height="43" fill="url(#vir)" stroke="#8a8a8a" stroke-width="2"/>
<path d="M598 1339V1370M770 1339V1370M942 1339V1370M1108 1339V1370M1281 1339V1370" stroke="#777" stroke-width="3"/>
<text class="tick" x="598" y="1403">2016</text>
<text class="tick" x="770" y="1403">2018</text>
<text class="tick" x="942" y="1403">2020</text>
<text class="tick" x="1108" y="1403">2022</text>
<text class="tick" x="1281" y="1403">2024</text>
</g>
<text class="cap" x="873" y="1535">(<tspan font-weight="bold">a</tspan>)</text>
<text class="cap" x="2924" y="1535">(<tspan font-weight="bold">b</tspan>)</text>
</svg>
